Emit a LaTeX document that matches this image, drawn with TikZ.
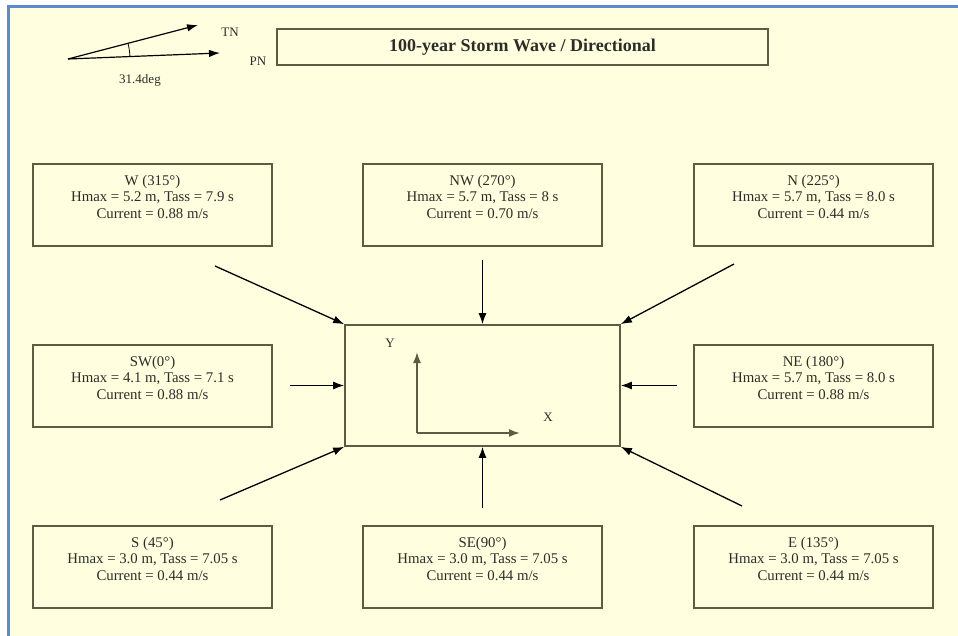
\documentclass[tikz,border=0pt]{standalone}
\usepackage{fontspec}
\setmainfont{Liberation Serif}
\usetikzlibrary{positioning,arrows.meta}
\definecolor{paper}{RGB}{255,255,224}
\definecolor{frameblue}{RGB}{88,140,208}
\definecolor{boxline}{RGB}{92,92,66}
\definecolor{inktext}{RGB}{45,45,40}
\tikzset{
  wavebox/.style={draw=boxline, line width=1.7pt, minimum width=239pt, minimum height=82pt,
    align=center, inner sep=0pt, text=inktext, font=\fontsize{14.8}{16.5}\selectfont},
  wavearrow/.style={-{Latex[length=11pt,width=8pt]}, line width=1.3pt, black},
  smalllabel/.style={text=inktext, font=\fontsize{13}{15}\selectfont, inner sep=0pt}
}

\begin{document}
\begin{tikzpicture}[x=1pt,y=-1pt]
    % page and frame
    \useasboundingbox (0,0) rectangle (958,636);
    \fill[white] (0,0) rectangle (958,636);
    \fill[paper] (10,8) rectangle (958,636);
    \draw[frameblue, line width=3pt] (7,6.5) -- (958,6.5);
    \draw[frameblue, line width=3pt] (8.5,5) -- (8.5,636);

    % true north / plant north
    \coordinate (cO) at (68,59);
    \coordinate (tn) at (198,25);
    \coordinate (pn) at (220,53);
    \draw[-{Latex[length=11pt,width=7.5pt]}, line width=1.2pt] (cO) -- (tn);
    \draw[-{Latex[length=11pt,width=7.5pt]}, line width=1.2pt] (cO) -- (pn);
    \draw[line width=0.8pt] (cO) ++(-2.3:62) arc[start angle=-2.3, end angle=-14.7, radius=62];
    \node[smalllabel] (tnlab) at (230,32) {TN};
    \node[smalllabel] (pnlab) at (258,61) {PN};
    \node[smalllabel] (anglab) at (140,80) {31.4deg};

    % title
    \node[draw=boxline, line width=1.7pt, minimum width=491pt, minimum height=36pt, inner sep=0pt,
      text=inktext, font=\fontsize{18}{20}\selectfont\bfseries] (title) at (522.5,47)
      {100-year Storm Wave / Directional};

    % structure
    \node[draw=boxline, line width=1.7pt, minimum width=275pt, minimum height=121pt, inner sep=0pt] (ctr) at (482.5,385.5) {};
    \coordinate (org) at (417,433);
    \coordinate (ytip) at (417,352);
    \coordinate (xtip) at (520,433);
    \draw[wavearrow, draw=boxline, line width=1.7pt] (org) -- (ytip);
    \draw[wavearrow, draw=boxline, line width=1.7pt] (org) -- (xtip);
    \node[smalllabel] (ylab) at (390,343) {Y};
    \node[smalllabel] (xlab) at (548,417) {X};

    % directional cases
    \node[wavebox] (W) at (152.5,205) {W (315\textdegree)\\Hmax = 5.2 m, Tass = 7.9 s\\Current = 0.88 m/s\\~};
    \node[wavebox] (NW) at (482.5,205) {NW (270\textdegree)\\Hmax = 5.7 m, Tass = 8 s\\Current = 0.70 m/s\\~};
    \node[wavebox] (N) at (813.5,205) {N (225\textdegree)\\Hmax = 5.7 m, Tass = 8.0 s\\Current = 0.44 m/s\\~};
    \node[wavebox] (SW) at (152.5,386) {SW(0\textdegree)\\Hmax = 4.1 m, Tass = 7.1 s\\Current = 0.88 m/s\\~};
    \node[wavebox] (NE) at (813.5,386) {NE (180\textdegree)\\Hmax = 5.7 m, Tass = 8.0 s\\Current = 0.88 m/s\\~};
    \node[wavebox] (S) at (152.5,567) {S (45\textdegree)\\Hmax = 3.0 m, Tass = 7.05 s\\Current = 0.44 m/s\\~};
    \node[wavebox] (SE) at (482.5,567) {SE(90\textdegree)\\Hmax = 3.0 m, Tass = 7.05 s\\Current = 0.44 m/s\\~};
    \node[wavebox] (E) at (813.5,567) {E (135\textdegree)\\Hmax = 3.0 m, Tass = 7.05 s\\Current = 0.44 m/s\\~};

    % incoming waves
    \coordinate (fromW) at (215,266);
    \coordinate (fromNW) at (482.5,260);
    \coordinate (fromN) at (734,264);
    \coordinate (fromSW) at (290,385.5);
    \coordinate (fromNE) at (677,385.5);
    \coordinate (fromS) at (220,500);
    \coordinate (fromSE) at (482.5,508);
    \coordinate (fromE) at (742,506);
    \draw[wavearrow] (fromW) -- (ctr.north west);
    \draw[wavearrow] (fromNW) -- (ctr.north);
    \draw[wavearrow] (fromN) -- (ctr.north east);
    \draw[wavearrow] (fromSW) -- (ctr.west);
    \draw[wavearrow] (fromNE) -- (ctr.east);
    \draw[wavearrow] (fromS) -- (ctr.south west);
    \draw[wavearrow] (fromSE) -- (ctr.south);
    \draw[wavearrow] (fromE) -- (ctr.south east);
\end{tikzpicture}
\end{document}
